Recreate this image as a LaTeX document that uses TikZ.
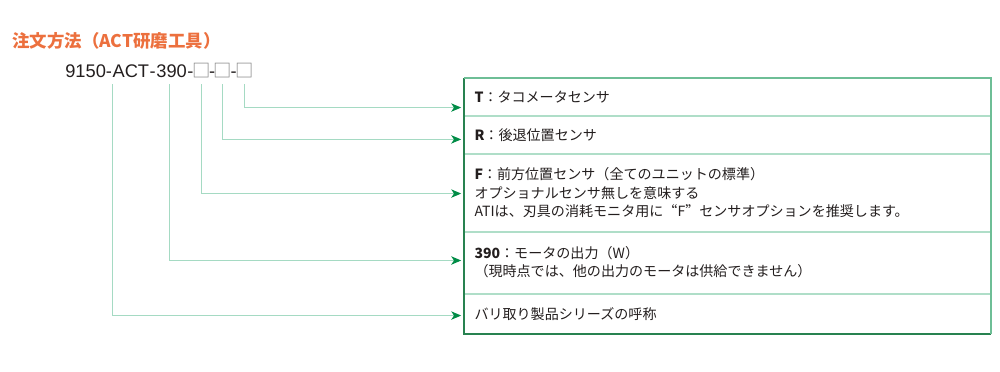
\documentclass[tikz,border=0pt]{standalone}
\usepackage{fontspec}
\setmainfont{Noto Sans CJK JP}
\newfontfamily\codefont{Liberation Sans}
\usetikzlibrary{arrows.meta,positioning}
\definecolor{titleorange}{RGB}{236,112,62}
\definecolor{leadgreen}  {RGB}{165,218,195}
\definecolor{tipgreen}   {RGB}{0,140,70}
\definecolor{framegreen} {RGB}{110,190,150}
\definecolor{edgegreen}  {RGB}{40,130,80}
\definecolor{rulegreen}  {RGB}{175,222,200}
\definecolor{inkblack}   {RGB}{35,30,30}
\definecolor{blankgray}  {RGB}{130,130,130}
\newcommand{\fwq}[1]{{\addfontfeature{CharacterWidth=Full}#1}}
\newcommand{\blanksq}{\makebox[3.6mm][c]{□}}

\begin{document}
\begin{tikzpicture}[
  x=0.25mm, y=-0.25mm,
  every node/.style={inner sep=0pt, text=inkblack},
  code/.style={font=\codefont\fontsize{13}{15}\selectfont, anchor=base west},
  blank/.style={anchor=base west, font=\fontsize{13}{15}\selectfont, text=blankgray},
  row/.style={draw=rulegreen, line width=0.25mm, text width=126.5mm, inner xsep=2.5mm,
    inner ysep=0pt, align=left, font=\fontsize{10}{13}\selectfont},
  lead/.style={draw=leadgreen, line width=0.25mm,
    -{Stealth[length=2.5mm, width=2.1mm, inset=0.7mm, color=tipgreen]}}
]
  \useasboundingbox (0,0) rectangle (1000,371);

  % Title
  \node[anchor=west, font=\bfseries\fontsize{12.4}{14}\selectfont, text=titleorange] (title) at (12,41)
    {注文方法（ACT研磨工具）};

  % Order code
  \node[code] (c9150) at (65,77) {9150-};
  \node[code] (cACT) at (c9150.base east) {ACT};
  \node[code] (cd1) at (cACT.base east) {-};
  \node[code] (c390) at (cd1.base east) {390};
  \node[code] (cd2) at (c390.base east) {-};
  \node[blank] (b1) at (cd2.base east) {\blanksq};
  \node[code] (cd3) at (b1.base east) {-};
  \node[blank] (b2) at (cd3.base east) {\blanksq};
  \node[code] (cd4) at (b2.base east) {-};
  \node[blank] (b3) at (cd4.base east) {\blanksq};

  % Table rows
  \node[row, anchor=north west, minimum height=9.375mm] (rowT) at (464,77.5)
    {\textbf{T}：タコメータセンサ};
  \node[row, minimum height=9.25mm, below=0pt of rowT] (rowR)
    {\textbf{R}：後退位置センサ};
  \node[row, minimum height=19.125mm, below=0pt of rowR] (rowF)
    {\textbf{F}：前方位置センサ（全てのユニットの標準）\\
     オプショナルセンサ無しを意味する\\
     ATIは、刃具の消耗モニタ用に\fwq{“}F\fwq{”}センサオプションを推奨します。};
  \node[row, minimum height=15.25mm, below=0pt of rowF] (row390)
    {\textbf{390}：モータの出力（W）\\
     （現時点では、他の出力のモータは供給できません）};
  \node[row, minimum height=9.875mm, below=0pt of row390] (rowB)
    {バリ取り製品シリーズの呼称};

  % Frame
  \draw[edgegreen, line width=0.3mm] (rowT.north west) -- (rowB.south west) -- (rowB.south east);
  \draw[framegreen, line width=0.5mm] (rowT.north west) -- (rowT.north east) -- (rowB.south east);

  % Leaders
  \draw[lead] ([yshift=-1.75mm]b3.base) |- ([xshift=-0.7mm, yshift=-2.7mm]rowT.west);
  \draw[lead] ([yshift=-1.75mm]b2.base) |- ([xshift=-0.7mm, yshift=-1.1mm]rowR.west);
  \draw[lead] ([yshift=-1.75mm]b1.base) |- ([xshift=-0.7mm, yshift=-0.2mm]rowF.west);
  \draw[lead] ([xshift=-0.5mm, yshift=-1.75mm]c390.base) |- ([xshift=-0.7mm, yshift=0.5mm]row390.west);
  \draw[lead] ([xshift=0.15mm, yshift=-1.75mm]cACT.base west) |- ([xshift=-0.7mm, yshift=-0.45mm]rowB.west);
\end{tikzpicture}
\end{document}
